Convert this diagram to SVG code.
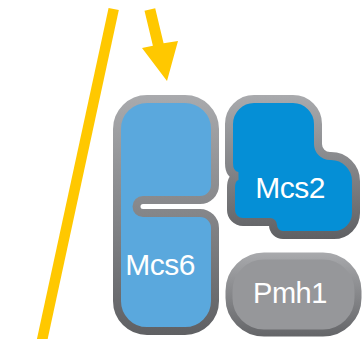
<svg xmlns="http://www.w3.org/2000/svg" width="362" height="339" viewBox="0 0 362 339">
<defs>
<linearGradient id="g6" gradientUnits="userSpaceOnUse" x1="0" y1="95" x2="0" y2="336"><stop offset="0" stop-color="#a9aaad"/><stop offset="1" stop-color="#5f6063"/></linearGradient>
<linearGradient id="g2" gradientUnits="userSpaceOnUse" x1="0" y1="95" x2="0" y2="240"><stop offset="0" stop-color="#a9aaad"/><stop offset="1" stop-color="#5f6063"/></linearGradient>
<linearGradient id="gp" gradientUnits="userSpaceOnUse" x1="0" y1="252" x2="0" y2="338"><stop offset="0" stop-color="#a9aaad"/><stop offset="1" stop-color="#636467"/></linearGradient>
</defs>
<style>
.lbl{font-family:"Liberation Sans",Arial,sans-serif;fill:#ffffff;text-anchor:middle}
.yel{fill:#ffc800}
</style>
<g id="connectors">
<line x1="113.7" y1="9" x2="41" y2="345" stroke="#ffc800" stroke-width="10.5"/>
<polygon class="yel" points="144.5,10.8 155.2,8.2 163.6,43.2 178,41 167,81 142,48 152.9,45.8"/>
</g>
<g id="Mcs6">
<path d="M147,99 H185 A30 30 0 0 1 215 129 V185 A15 15 0 0 1 200 200 H143 A6.5 6.5 0 0 0 143 213 H200 A15 15 0 0 1 215 228 V301 A30 30 0 0 1 185 331 H147 A30 30 0 0 1 117 301 V129 A30 30 0 0 1 147 99 Z" fill="#5aa8dd" stroke="url(#g6)" stroke-width="8"/>
<text class="lbl" x="160" y="275" font-size="30" letter-spacing="-0.5">Mcs6</text>
</g>
<g id="Mcs2">
<path d="M254,99 H293 A25 25 0 0 1 318 124 V144 A12 12 0 0 0 330 156 H331 A25 25 0 0 1 356 181 V213 A22 22 0 0 1 334 235 H283 A10 10 0 0 1 273 225 A3 3 0 0 0 270 222 H243 A12 12 0 0 1 231 210 V188 Q231 177 238 176 Q229 175 229 163 V124 A25 25 0 0 1 254 99 Z" fill="#058fd6" stroke="url(#g2)" stroke-width="8"/>
<text class="lbl" x="290" y="198" font-size="30" letter-spacing="-0.5">Mcs2</text>
</g>
<g id="Pmh1">
<rect x="229" y="256" width="129" height="77" rx="35" fill="#96979a" stroke="url(#gp)" stroke-width="7"/>
<text class="lbl" x="290" y="303" font-size="29" letter-spacing="-0.5">Pmh1</text>
</g>
</svg>
